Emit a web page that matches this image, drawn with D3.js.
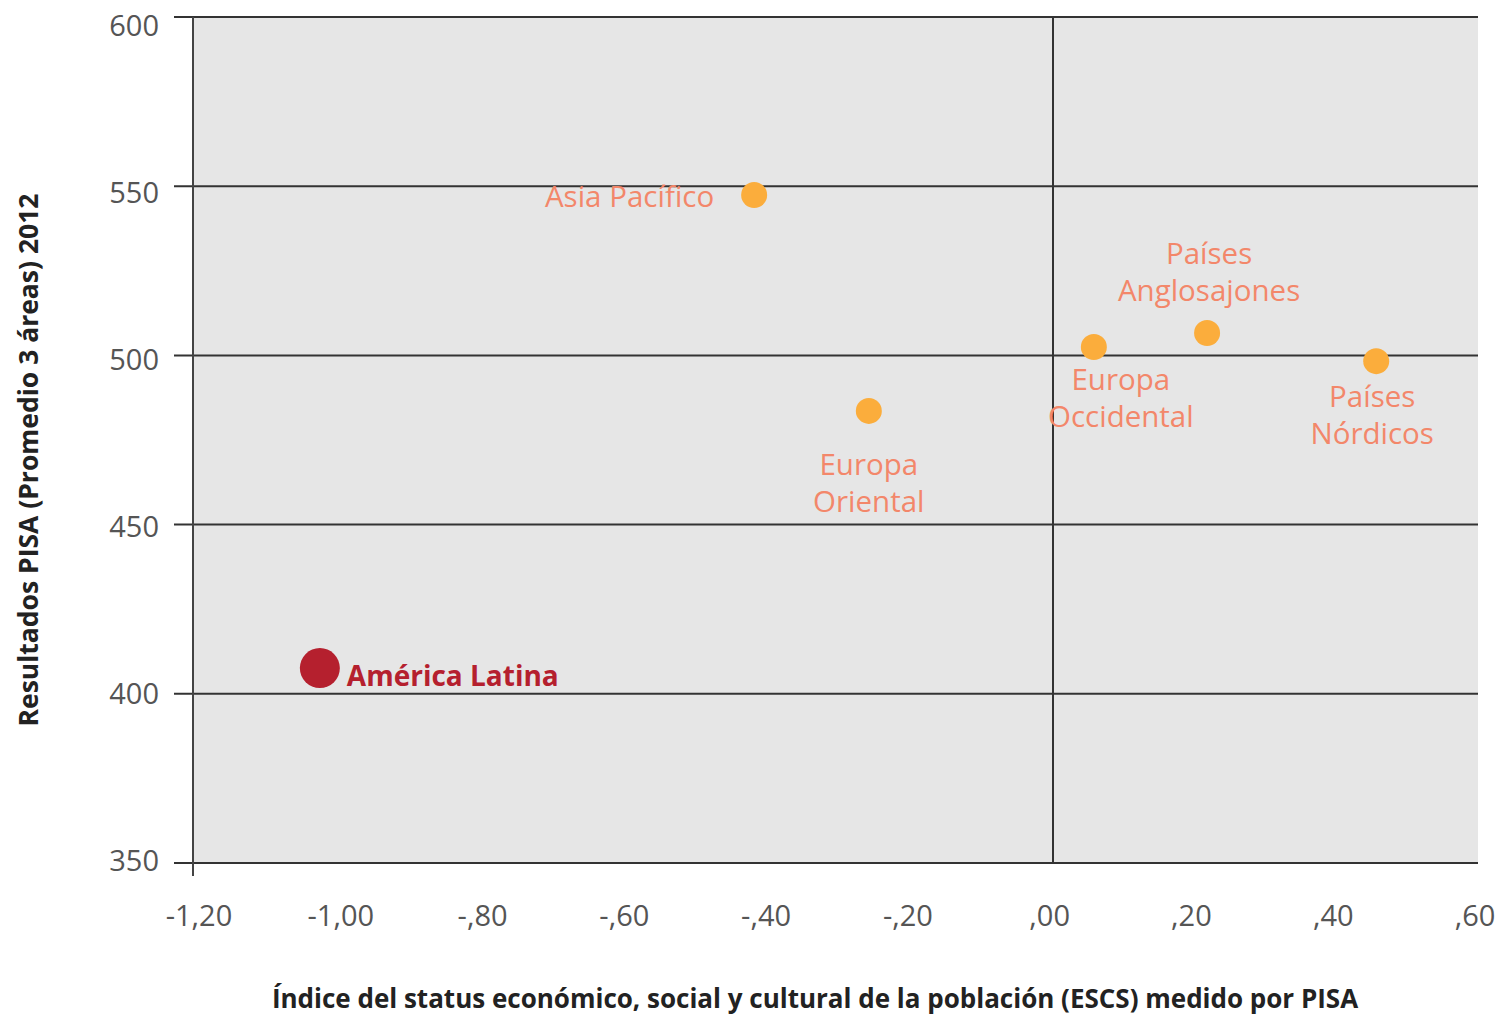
<!DOCTYPE html>
<html>
<head>
<meta charset="utf-8">
<script src="https://cdn.jsdelivr.net/npm/d3@7"></script>
<style>
  body { margin: 0; background: #fff; }
  svg { display: block; }
</style>
</head>
<body>
<svg id="chart" width="1501" height="1015"></svg>
<script>
// data
const regions = ["Asia Pacífico", "Europa Oriental", "Europa Occidental", "Países Anglosajones", "Países Nórdicos", "América Latina"];
const escs = [-0.417, -0.257, 0.057, 0.215, 0.451, -1.023];
const pisa = [547.4, 483.6, 502.5, 506.6, 498.3, 407.6];
const xTicks = [-1.2, -1.0, -0.8, -0.6, -0.4, -0.2, 0, 0.2, 0.4, 0.6];
const yTicks = [350, 400, 450, 500, 550, 600];

const SVG = d3.select("#chart");
const LEFT = 193, RIGHT = 1478, TOP = 17, BOTTOM = 863;

const X = d3.scaleLinear().domain([-1.2, 0.6]).range([LEFT, 1483]);
const Y = d3.scaleLinear().domain([350, 600]).range([BOTTOM, TOP]);
// tick labels sit on a slightly tighter spread than the grid
const X_LAB = d3.scaleLinear().domain([-1.2, 0.6]).range([199, 1475]);
const Y_LAB = d3.scaleLinear().domain([350, 600]).range([860, 25]);

// label placement per point (dx, dy, anchor, lines)
const labels = [
  { lines: ["Asia Pacífico"], dx: -40, dy: 12, anchor: "end" },
  { lines: ["Europa", "Oriental"], dx: 0, dy: 64, anchor: "middle" },
  { lines: ["Europa", "Occidental"], dx: 27, dy: 43, anchor: "middle" },
  { lines: ["Países", "Anglosajones"], dx: 2, dy: -69, anchor: "middle" },
  { lines: ["Países", "Nórdicos"], dx: -4, dy: 46, anchor: "middle" },
  { lines: ["América Latina"], dx: 27, dy: 18, anchor: "start" }
];

const fmt = (v) => {
  let s = Math.abs(v).toFixed(2).replace(".", ",");
  if (Math.abs(v) < 1) s = s.replace(/^0/, "");
  return (v < 0 ? "-" : "") + s;
};

// PLOT BACKGROUND
SVG.append("rect")
  .attr("x", LEFT).attr("y", TOP)
  .attr("width", RIGHT - LEFT).attr("height", BOTTOM - TOP)
  .attr("fill", "#e6e6e6");

// GRID (horizontal lines + short ticks to the left)
SVG.append("g").selectAll("line")
  .data(yTicks)
  .join("line")
  .attr("x1", LEFT - 19).attr("x2", RIGHT)
  .attr("y1", (d) => Y(d)).attr("y2", (d) => Y(d))
  .attr("stroke", "#333").attr("stroke-width", 2);

// zero line
SVG.append("line")
  .attr("x1", X(0)).attr("x2", X(0))
  .attr("y1", TOP).attr("y2", BOTTOM)
  .attr("stroke", "#333").attr("stroke-width", 2);

// y axis line
SVG.append("line")
  .attr("x1", LEFT).attr("x2", LEFT)
  .attr("y1", TOP).attr("y2", BOTTOM + 13)
  .attr("stroke", "#444").attr("stroke-width", 2);

// Y TICK LABELS
SVG.append("g").selectAll("text")
  .data(yTicks)
  .join("text")
  .attr("x", 159).attr("y", (d) => Y_LAB(d) + 11)
  .attr("text-anchor", "end")
  .style("font-family", "'Open Sans', sans-serif")
  .style("font-size", "29px")
  .style("fill", "#555")
  .text((d) => d);

// X TICK LABELS
SVG.append("g").selectAll("text")
  .data(xTicks)
  .join("text")
  .attr("x", (d) => X_LAB(d)).attr("y", 926)
  .attr("text-anchor", "middle")
  .style("font-family", "'Open Sans', sans-serif")
  .style("font-size", "29px")
  .style("fill", "#555")
  .text((d) => fmt(d));

// AXIS TITLES
SVG.append("text")
  .attr("x", 815).attr("y", 1008)
  .attr("text-anchor", "middle")
  .style("font-family", "'Liberation Sans Narrow', 'Open Sans', sans-serif")
  .style("font-weight", "bold")
  .style("font-size", "26px")
  .style("fill", "#222")
  .text("Índice del status económico, social y cultural de la población (ESCS) medido por PISA");

SVG.append("text")
  .attr("transform", "translate(38,460) rotate(-90)")
  .attr("text-anchor", "middle")
  .style("font-family", "'Liberation Sans Narrow', 'Open Sans', sans-serif")
  .style("font-weight", "bold")
  .style("font-size", "26.5px")
  .style("fill", "#222")
  .text("Resultados PISA (Promedio 3 áreas) 2012");

// POINTS
const PTS = SVG.append("g");
regions.forEach((r, i) => {
  const isLatam = r === "América Latina";
  const cx = X(escs[i]), cy = Y(pisa[i]);
  PTS.append("circle")
    .attr("cx", cx).attr("cy", cy)
    .attr("r", isLatam ? 20 : 13)
    .attr("fill", isLatam ? "#b5202e" : "#fbad3c");

  const lab = labels[i];
  const t = PTS.append("text")
    .attr("text-anchor", lab.anchor)
    .style("font-family", "'Open Sans', sans-serif")
    .style("font-size", isLatam ? "28px" : "29.5px")
    .style("font-weight", isLatam ? "bold" : "normal")
    .style("fill", isLatam ? "#b5202e" : "#f3876a");
  lab.lines.forEach((ln, k) => {
    t.append("tspan")
      .attr("x", cx + lab.dx)
      .attr("y", cy + lab.dy + k * 37)
      .text(ln);
  });
});
</script>
</body>
</html>
